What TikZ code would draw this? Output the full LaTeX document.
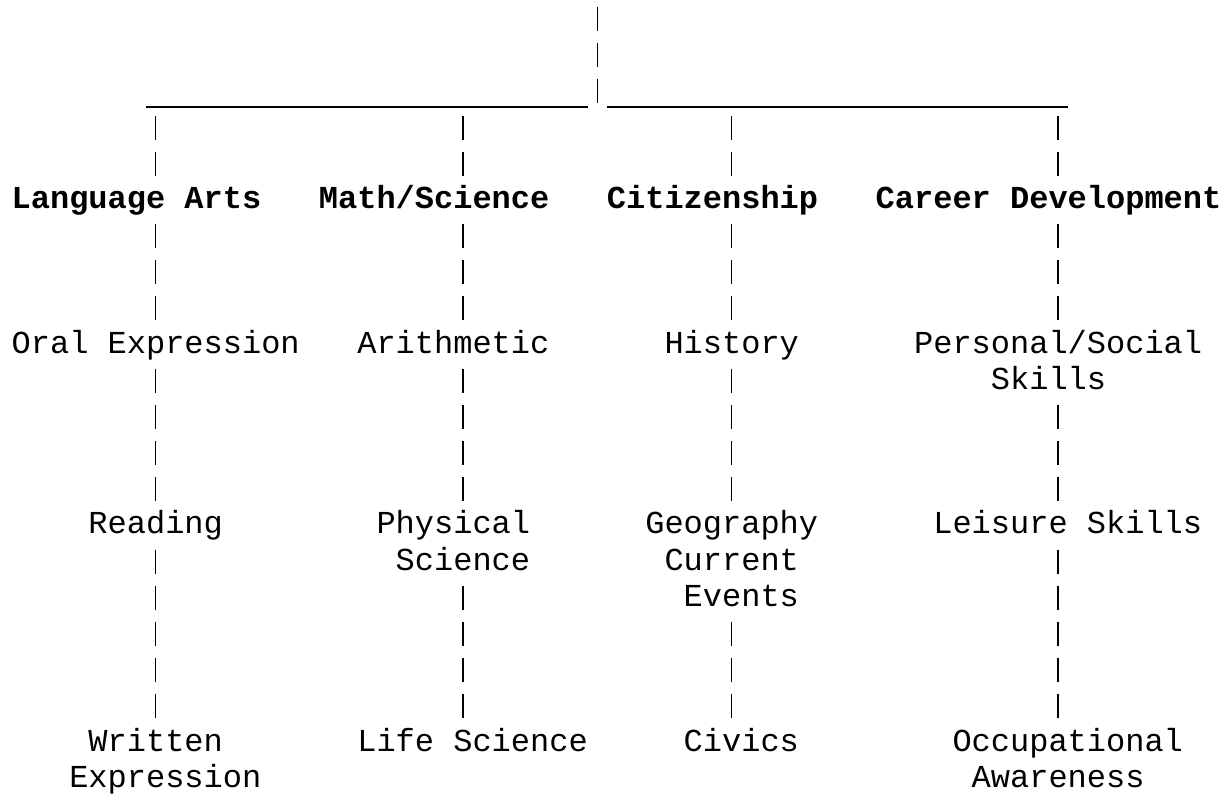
\documentclass[tikz,border=0pt]{standalone}
\usepackage{fontspec}
\newfontfamily\asciifont{Liberation Mono}
\usetikzlibrary{calc}

\begin{document}
\begin{tikzpicture}[x=14.4pt, y=-27.136pt,
    lbl/.style={anchor=north west, inner sep=0pt, outer sep=0pt,
        text height=20.55pt, text depth=6.586pt,
        font=\asciifont\fontsize{24}{27.136}\selectfont},
    head/.style={lbl, font=\asciifont\fontsize{24}{27.136}\selectfont\bfseries},
    tworows/.style={text depth=33.722pt},
    threerows/.style={text depth=60.858pt},
    pipe/.style={line width=1pt, dash pattern=on 18pt off 9.136pt, dash phase=21.886pt},
    bar/.style={line width=1pt}]
        \path[use as bounding box, fill=white] (-0.609,0) rectangle (63.505,22);
        % headings
        \node[head] (lang) at (0,5) {Language Arts};
        \node[head] (math) at (16,5) {Math/Science};
        \node[head] (citz) at (31,5) {Citizenship};
        \node[head] (career) at (45,5) {Career Development};
        % subjects
        \node[lbl] (oral) at (0,9) {Oral Expression};
        \node[lbl] (arith) at (18,9) {Arithmetic};
        \node[lbl] (hist) at (34,9) {History};
        \node[lbl, tworows] (pers) at (47,9) {\vtop{\hbox{Personal/Social}\hbox{\ \ \ \ Skills}}};
        \node[lbl] (read) at (4,14) {Reading};
        \node[lbl, tworows] (phys) at (19,14) {\vtop{\hbox{Physical}\hbox{\ Science}}};
        \node[lbl, threerows] (geog) at (33,14) {\vtop{\hbox{Geography}\hbox{\ Current}\hbox{\ \ Events}}};
        \node[lbl] (leis) at (48,14) {Leisure Skills};
        \node[lbl, tworows] (writ) at (3,20) {\vtop{\hbox{\ Written}\hbox{Expression}}};
        \node[lbl] (life) at (18,20) {Life Science};
        \node[lbl] (civ) at (35,20) {Civics};
        \node[lbl, tworows] (occ) at (49,20) {\vtop{\hbox{Occupational}\hbox{\ Awareness}}};
        % trunk and bar
        \coordinate (root) at (30.5,0);
        \coordinate (hub) at (30.5,3);
        \coordinate (barL) at (7,2.954);
        \coordinate (barA) at (30,2.954);
        \coordinate (barB) at (31,2.954);
        \coordinate (barR) at (55,2.954);
        \draw[pipe] (root) -- (hub);
        \draw[bar] (barL) -- (barA);
        \draw[bar] (barB) -- (barR);
        % columns
        \coordinate (laTop) at (7.5,3);
        \coordinate (msTop) at (23.5,3);
        \coordinate (ciTop) at (37.5,3);
        \coordinate (cdTop) at (54.5,3);
        \foreach \c/\h in {laTop/lang, msTop/math, ciTop/citz, cdTop/career}
            \draw[pipe] (\c) -- (\c |- \h.north);
        \foreach \c/\a/\b in
        {laTop/lang/oral, laTop/oral/read, laTop/read/writ,
            msTop/math/arith, msTop/arith/phys, msTop/phys/life,
            ciTop/citz/hist, ciTop/hist/geog, ciTop/geog/civ,
            cdTop/career/pers, cdTop/pers/leis, cdTop/leis/occ}
        {
            \draw[pipe] (\c |- \a.south) -- (\c |- \b.north);
        };
\end{tikzpicture}
\end{document}
